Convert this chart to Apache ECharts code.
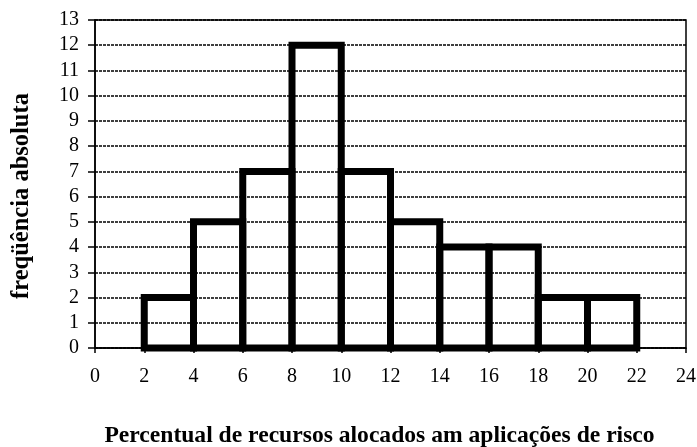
<!DOCTYPE html>
<html><head><meta charset="utf-8">
<script src="https://cdn.jsdelivr.net/npm/echarts@6/dist/echarts.min.js"></script>
<style>html,body{margin:0;padding:0;background:#fff}#c{width:697px;height:447px}</style>
</head><body><div id="c"></div>
<script>
const binStarts = [2, 4, 6, 8, 10, 12, 14, 16, 18, 20];
const binEnds   = [4, 6, 8, 10, 12, 14, 16, 18, 20, 22];
const counts    = [2, 5, 7, 12, 7, 5, 4, 4, 2, 2];
const xTitle = 'Percentual de recursos alocados am aplicações de risco';
const yTitle = 'freqüência absoluta';

const data = binStarts.map((s, i) => [s, binEnds[i], counts[i]]);
const font = '"Liberation Serif", "Times New Roman", serif';
const chart = echarts.init(document.getElementById('c'));
chart.setOption({
  animation: false,
  grid: { left: 95, right: 11, top: 20, bottom: 99, containLabel: false, outerBoundsMode: 'none',
          show: true, borderColor: '#000', borderWidth: 1.5, backgroundColor: 'transparent' },
  xAxis: {
    type: 'value', min: 0, max: 24, interval: 2,
    axisLine: { show: true, onZero: false, lineStyle: { color: '#000', width: 1.5 } },
    axisTick: { show: true, length: 5, lineStyle: { color: '#000', width: 1.5 } },
    axisLabel: { color: '#000', fontFamily: font, fontSize: 20, margin: 19 },
    splitLine: { show: false },
    name: xTitle, nameLocation: 'middle', nameGap: 76,
    nameTextStyle: { color: '#000', fontFamily: font, fontSize: 23.6, fontWeight: 'bold', padding: [0, 22, 0, 0] }
  },
  yAxis: {
    type: 'value', min: 0, max: 13, interval: 1,
    axisLine: { show: true, lineStyle: { color: '#000', width: 1.5 } },
    axisTick: { show: true, length: 7, inside: false, lineStyle: { color: '#000', width: 1.5 } },
    axisLabel: { color: '#000', fontFamily: font, fontSize: 20, margin: 16 },
    splitLine: { show: true, lineStyle: { color: '#000', width: 1.6, type: [3, 1] } },
    name: yTitle, nameLocation: 'middle', nameGap: 61, nameRotate: 90,
    nameTextStyle: { color: '#000', fontFamily: font, fontSize: 24.5, fontWeight: 'bold', padding: [0, 24, 0, 0] }
  },
  series: [{
    type: 'custom',
    clip: false,
    data: data,
    encode: { x: [0, 1], y: 2 },
    renderItem: function (params, api) {
      const p0 = api.coord([api.value(0), 0]);
      const p1 = api.coord([api.value(1), api.value(2)]);
      return {
        type: 'rect',
        shape: { x: p0[0], y: p1[1], width: p1[0] - p0[0], height: p0[1] - p1[1] },
        style: { fill: 'none', stroke: '#000', lineWidth: 7 }
      };
    }
  }]
});
</script></body></html>
